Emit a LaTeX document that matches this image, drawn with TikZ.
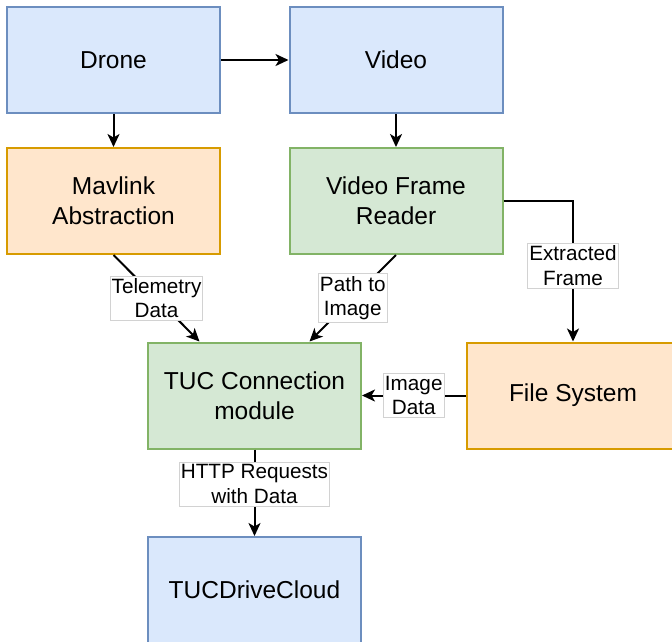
\documentclass[tikz,border=0pt]{standalone}
\usepackage{fontspec}
\setmainfont{Liberation Sans}
\usetikzlibrary{arrows.meta,calc}
\definecolor{bfill}{HTML}{DAE8FC}\definecolor{bdraw}{HTML}{6C8EBF}
\definecolor{ofill}{HTML}{FFE6CC}\definecolor{odraw}{HTML}{D79B00}
\definecolor{gfill}{HTML}{D5E8D4}\definecolor{gdraw}{HTML}{82B366}
\tikzset{
  box/.style={rectangle, minimum width=213pt, minimum height=106pt, line width=2pt,
    align=center, inner sep=0pt, font=\fontsize{24.5pt}{30pt}\selectfont},
  bluebox/.style={box, fill=bfill, draw=bdraw},
  orangebox/.style={box, fill=ofill, draw=odraw},
  greenbox/.style={box, fill=gfill, draw=gdraw},
  conn/.style={line width=2pt, draw=black, -{Stealth[length=13pt,width=12pt,inset=3.5pt]}},
  lbl/.style={fill=white, draw=gray!35, line width=0.8pt, align=center, inner xsep=1.5pt, inner ysep=2.5pt,
    font=\fontsize{20.7pt}{24.5pt}\selectfont, text=black}
}
\begin{document}
\begin{tikzpicture}[x=1pt,y=-1pt]
\useasboundingbox (0,0) rectangle (672,641);
\clip (0,0) rectangle (672,641);
\node[bluebox] (drone) at (113.5,60) {Drone};
\node[bluebox] (video) at (396,60) {Video};
\node[orangebox] (mav) at (113.5,201) {Mavlink\\Abstraction};
\node[greenbox] (vfr) at (396,201) {Video Frame\\Reader};
\node[greenbox] (tuc) at (254.5,395.5) {TUC Connection\\module};
\node[orangebox] (fs) at (573,395.5) {File System};
\node[bluebox] (cloud) at (254.5,590) {TUCDriveCloud};
\coordinate (tucl) at ($(tuc.north)+(-55,0)$);
\coordinate (tucr) at ($(tuc.north)+(55,0)$);
\draw[conn] (drone) -- (video);
\draw[conn] (drone) -- (mav);
\draw[conn] (video) -- (vfr);
\draw[conn] (mav.south) -- node[lbl] {Telemetry\\Data} (tucl);
\draw[conn] (vfr.south) -- node[lbl] {Path to\\Image} (tucr);
\draw[conn] (vfr.east) -| node[lbl, pos=0.73] {Extracted\\Frame} (fs.north);
\draw[conn] (fs.west) -- node[lbl] {Image\\Data} (tuc.east);
\draw[conn] (tuc.south) -- node[lbl, pos=0.4] {HTTP Requests\\with Data} (cloud.north);
\end{tikzpicture}
\end{document}
